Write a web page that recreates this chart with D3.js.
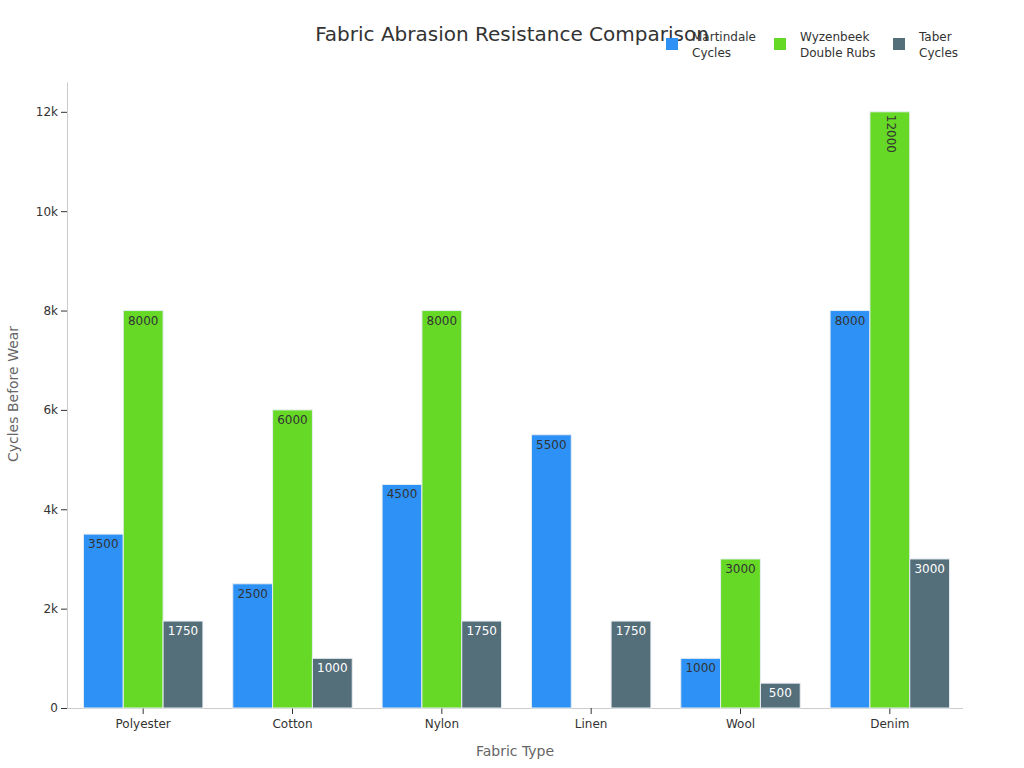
<!DOCTYPE html>
<html><head><meta charset="utf-8">
<script src="https://cdn.jsdelivr.net/npm/d3@7/dist/d3.min.js"></script>
<style>body{margin:0;background:#fff;font-family:"DejaVu Sans",sans-serif;}</style>
</head><body>
<svg id="chart" width="1024" height="768"></svg>
<script>
const categories = ["Polyester","Cotton","Nylon","Linen","Wool","Denim"];
const seriesNames = ["Martindale Cycles","Wyzenbeek Double Rubs","Taber Cycles"];
const legendLines = [["Martindale","Cycles"],["Wyzenbeek","Double Rubs"],["Taber","Cycles"]];
const martindale = [3500,2500,4500,5500,1000,8000];
const wyzenbeek = [8000,6000,8000,null,3000,12000];
const taber = [1750,1000,1750,1750,500,3000];
const yTicks = [0,2000,4000,6000,8000,10000,12000];
const colors = ["#2E91F5","#66D926","#546E7A"];
const labelColors = ["#333","#333","#fff"];

const series = [martindale, wyzenbeek, taber];
const svg = d3.select("#chart");
const m = {l:67, r:61, t:82, b:60};
const W = 1024, H = 768;
const x0 = d3.scaleBand().domain(categories).range([m.l+1.5, W-m.r+1.5]).paddingInner(0.2).paddingOuter(0.1);
const x1 = d3.scaleBand().domain([0,1,2]).range([0, x0.bandwidth()]).padding(0);
const y = d3.scaleLinear().domain([0,12600]).range([H-m.b, m.t]);

// axes
const yAxis = svg.append("g").attr("transform",`translate(${m.l},0)`)
  .call(d3.axisLeft(y).tickValues(yTicks).tickFormat(d=> d===0?"0":(d/1000)+"k").tickSizeOuter(0));
yAxis.select(".domain").attr("stroke","#ccc");
yAxis.selectAll(".tick line").attr("stroke","#333");
yAxis.selectAll(".tick text").attr("fill","#333").style("font-size","12px").style("font-family","DejaVu Sans");

const xAxis = svg.append("g").attr("transform",`translate(0,${H-m.b})`)
  .call(d3.axisBottom(x0).tickSizeOuter(0));
xAxis.select(".domain").attr("stroke","#ccc").attr("d",`M${m.l},0.5H${W-m.r}`);
xAxis.selectAll(".tick line").attr("stroke","#333");
xAxis.selectAll(".tick text").attr("fill","#333").style("font-size","12px").style("font-family","DejaVu Sans").attr("dy","0.9em");

// bars
categories.forEach((c,i)=>{
  const g = svg.append("g").attr("transform",`translate(${x0(c)},0)`);
  series.forEach((s,j)=>{
    const v = s[i];
    if (v==null) return;
    const bx = x1(j), bw = x1.bandwidth(), by = y(v);
    g.append("rect").attr("x",bx).attr("y",by).attr("width",bw).attr("height",y(0)-by)
      .attr("fill",colors[j]).attr("stroke","#e8eef2").attr("stroke-width",1);
    const t = g.append("text").text(v).attr("fill",labelColors[j])
      .style("font-size","12px").style("font-family","DejaVu Sans");
    const tw = t.node().getComputedTextLength();
    if (tw > bw - 6) {
      t.attr("transform",`translate(${bx+bw/2-3},${by+3}) rotate(90)`);
    } else {
      t.attr("x",bx+bw/2).attr("y",by+14).attr("text-anchor","middle");
    }
  });
});

// title
svg.append("text").attr("x",512).attr("y",41).attr("text-anchor","middle")
  .attr("fill","#333").style("font-size","20px").text("Fabric Abrasion Resistance Comparison");

// axis titles
svg.append("text").attr("x",515).attr("y",756).attr("text-anchor","middle")
  .attr("fill","#666").style("font-size","14px").text("Fabric Type");
svg.append("text").attr("transform","translate(18,394) rotate(-90)").attr("text-anchor","middle")
  .attr("fill","#666").style("font-size","14px").text("Cycles Before Wear");

// legend
const legX = [666,774,893];
seriesNames.forEach((n,j)=>{
  svg.append("rect").attr("x",legX[j]).attr("y",38).attr("width",12).attr("height",12).attr("fill",colors[j]);
  const t = svg.append("text").attr("x",legX[j]+26).attr("y",41).attr("fill","#333").style("font-size","12px");
  legendLines[j].forEach((ln,k)=>t.append("tspan").attr("x",legX[j]+26).attr("dy",k?"1.3em":0).text(ln));
});
</script>
</body></html>
